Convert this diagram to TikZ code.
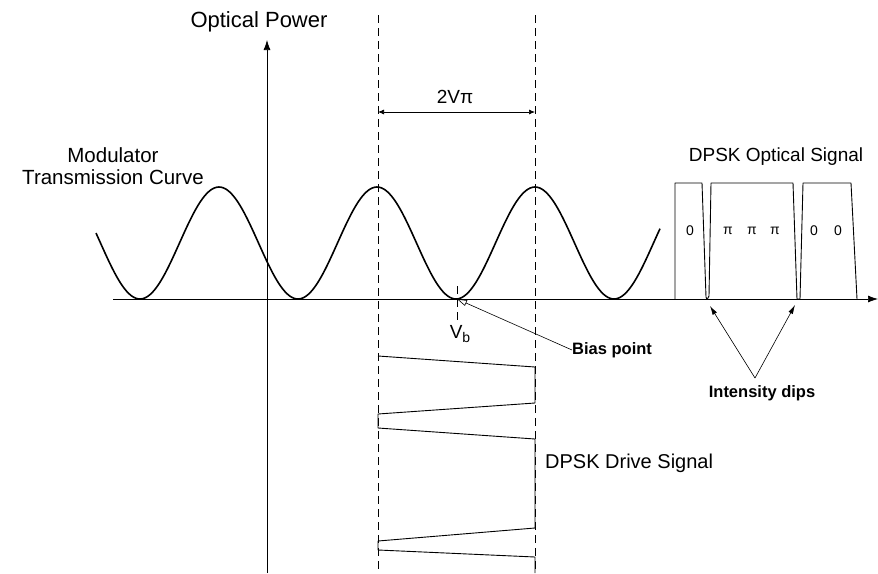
\documentclass[tikz,border=0pt]{standalone}
\usepackage{fontspec}
\setmainfont{Liberation Sans}
\usetikzlibrary{arrows.meta}

\begin{document}
\begin{tikzpicture}[
    x=1pt, y=-1pt,
    lbl/.style={inner sep=0pt, font=\fontsize{19}{21}\selectfont, align=center},
    boldlbl/.style={inner sep=0pt, font=\fontsize{16.5}{18}\selectfont\bfseries},
    bitlbl/.style={inner sep=0pt, font=\fontsize{14}{16}\selectfont},
    axis/.style={-{Latex[length=10pt,width=7pt]}, line width=0.7pt},
    dashline/.style={dash pattern=on 8pt off 5pt, line width=0.7pt},
    curve/.style={line width=1.6pt, line join=round},
    wave/.style={line width=0.9pt, line join=round},
    arr/.style={-{Latex[length=9pt,width=5pt]}, line width=0.6pt}
]
\useasboundingbox (0,0) rectangle (878,573);

%% Axes %%
\coordinate (xstart) at (113,299);
\coordinate (xend)   at (878,299);
\coordinate (ybot)   at (267,573);
\coordinate (ytop)   at (267,40);
\draw[axis] (xstart) -- (xend);
\draw[axis] (ybot) -- (ytop);
\node[lbl, font=\fontsize{22}{24}\selectfont] (power) at (259,22) {Optical Power};

%% Dashed limits and 2Vpi span %%
\coordinate (lefttop)  at (378,15);
\coordinate (leftbot)  at (378,573);
\coordinate (righttop) at (535,15);
\coordinate (rightbot) at (535,573);
\draw[dashline] (lefttop) -- (leftbot);
\draw[dashline] (righttop) -- (rightbot);
\coordinate (spanl) at (378,112);
\coordinate (spanr) at (535,112);
\draw[{Latex[length=6pt,width=5pt]}-{Latex[length=6pt,width=5pt]}, line width=0.7pt] (spanl) -- (spanr);
\node[lbl] (twovpi) at (455,97) {2Vπ};

%% Modulator transmission curve %%
\draw[curve] plot[domain=96:660, samples=240, smooth] (\x, {243+56*cos((\x-140)/158*360)});
\node[lbl, font=\fontsize{20.5}{22}\selectfont] (modlbl) at (113,166) {Modulator\\Transmission Curve};

%% Bias point %%
\coordinate (vb) at (457,299);
\draw[dashline] (457,286) -- (457,320);
\node[lbl] (vblbl) at (460,334) {V\raisebox{-0.35ex}{\fontsize{14}{16}\selectfont b}};
\node[boldlbl, anchor=west] (bias) at (572,350) {Bias point};
\draw[-{Triangle[open,length=10pt,width=6pt]}, line width=0.6pt] (bias.west) -- (vb);

%% Drive signal %%
\draw[wave] (378,356) -- (535,367) -- (535,403) -- (378,414) -- (378,428)
    -- (535,439) -- (535,528) -- (378,541) -- (378,550) -- (535,557) -- (535,573);
\node[lbl, font=\fontsize{20}{22}\selectfont, anchor=west] (drivelbl) at (545,463) {DPSK Drive Signal};

%% Optical signal %%
\draw[wave] (675,299) -- (675,183) -- (702,183) -- (706,297)
    .. controls (707,300) .. (709,296) -- (711,183) -- (793,183) -- (797,299)
    -- (800,299) -- (803,183) -- (851,183) -- (857,299);
\node[lbl] (optlbl) at (776,157) {DPSK Optical Signal};
\node[bitlbl] (bit1) at (690,231) {0};
\node[bitlbl] (bit2) at (728,231) {π};
\node[bitlbl] (bit3) at (752,231) {π};
\node[bitlbl] (bit4) at (775,231) {π};
\node[bitlbl] (bit5) at (814,231) {0};
\node[bitlbl] (bit6) at (838,231) {0};

%% Intensity dips %%
\coordinate (apex) at (755,378);
\coordinate (dip1) at (710,306);
\coordinate (dip2) at (795,305);
\draw[arr] (apex) -- (dip1);
\draw[arr] (apex) -- (dip2);
\node[boldlbl] (dips) at (762,393) {Intensity dips};

\end{tikzpicture}
\end{document}
